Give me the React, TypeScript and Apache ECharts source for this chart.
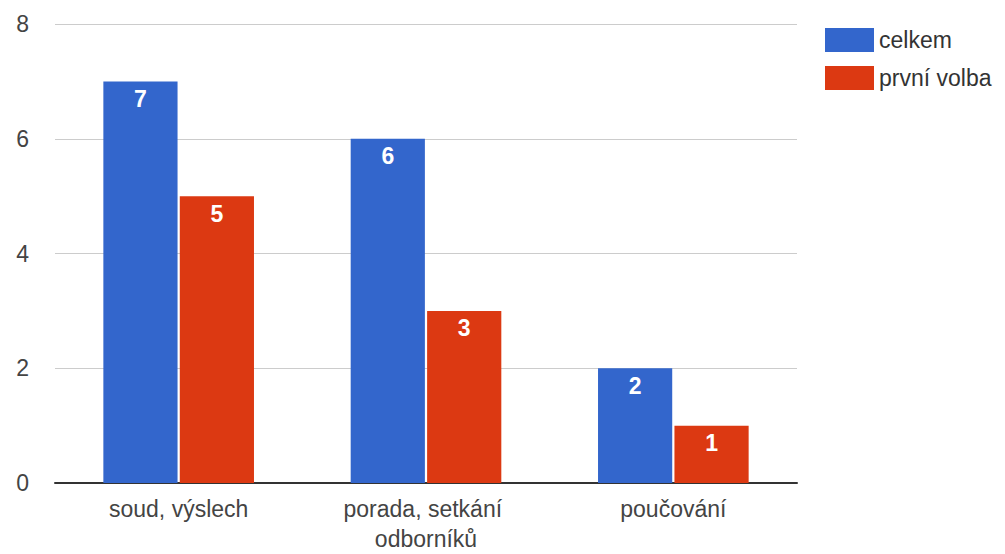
import React, { useEffect, useRef } from "react";
import * as echarts from "echarts";

const categories = ["soud, výslech", "porada, setkání odborníků", "poučování"];
const celkem = [7, 6, 2];
const prvniVolba = [5, 3, 1];
const seriesNames = ["celkem", "první volba"];
const colors = ["#3366CC", "#DC3912"];

export default function App() {
  const ref = useRef<HTMLDivElement>(null);
  useEffect(() => {
    const chart = echarts.init(ref.current!, null, { renderer: "svg" });
    const font = "Arial, 'Liberation Sans', sans-serif";
    const barLabel = {
      show: true,
      position: "insideTop",
      distance: 6,
      color: "#fff",
      fontWeight: "bold",
      fontSize: 23,
      fontFamily: font,
    };
    chart.setOption({
      animation: false,
      textStyle: { fontFamily: font },
      grid: { left: 55, right: 208, top: 24, bottom: 71 },
      legend: {
        orient: "vertical",
        left: 820,
        top: 23,
        itemWidth: 49,
        itemHeight: 24,
        itemGap: 14,
        icon: "rect",
        textStyle: { fontSize: 23, color: "#333", fontFamily: font },
        data: seriesNames,
      },
      xAxis: {
        type: "category",
        data: categories,
        axisLine: { lineStyle: { color: "#333", width: 2 } },
        axisTick: { show: false },
        axisLabel: {
          fontSize: 23,
          color: "#444",
          fontFamily: font,
          margin: 11,
          lineHeight: 30,
          width: 200,
          overflow: "break",
          interval: 0,
        },
      },
      yAxis: {
        type: "value",
        min: 0,
        max: 8,
        interval: 2,
        axisLine: { show: false },
        axisTick: { show: false },
        splitLine: { lineStyle: { color: "#ccc", width: 1 } },
        axisLabel: { fontSize: 23, color: "#444", fontFamily: font, margin: 26 },
      },
      series: [
        {
          name: seriesNames[0],
          type: "bar",
          data: celkem,
          barWidth: "30%",
          barGap: "3%",
          itemStyle: { color: colors[0] },
          label: barLabel,
        },
        {
          name: seriesNames[1],
          type: "bar",
          data: prvniVolba,
          barWidth: "30%",
          barGap: "3%",
          itemStyle: { color: colors[1] },
          label: barLabel,
        },
      ],
    });
    return () => chart.dispose();
  }, []);
  return (
    <div
      ref={ref}
      style={{ position: "absolute", left: 0, top: 0, width: 1005, height: 554, background: "#fff" }}
    />
  );
}
